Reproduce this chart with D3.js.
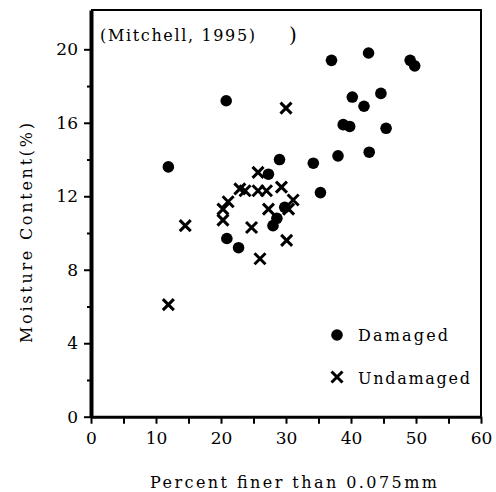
<!DOCTYPE html>
<html>
<head>
<meta charset="utf-8">
<script src="https://cdn.jsdelivr.net/npm/d3@7"></script>
<style>
  body { margin: 0; background: #fff; }
  svg { display: block; }
  text { font-family: "DejaVu Serif", "Liberation Serif", serif; fill: #000; }
</style>
</head>
<body>
<div id="chart"></div>
<script>
// Data (percent finer than 0.075mm, moisture content %)
var damagedX = [37.0, 42.7, 49.1, 49.8, 40.2, 44.6, 42.0, 38.8, 39.8, 45.4,
                29.0, 34.2, 38.0, 42.8, 35.3, 20.8, 11.9, 20.9, 22.7, 27.3,
                29.8, 28.6, 28.0];
var damagedY = [19.4, 19.8, 19.4, 19.1, 17.4, 17.6, 16.9, 15.9, 15.8, 15.7,
                14.0, 13.8, 14.2, 14.4, 12.2, 17.2, 13.6, 9.7, 9.2, 13.2,
                11.4, 10.8, 10.4];
var undamagedX = [30.0, 14.5, 11.9, 25.7, 22.9, 23.7, 21.1, 20.3, 20.3, 25.7,
                  27.0, 29.3, 31.1, 27.3, 30.4, 24.7, 30.1, 26.0];
var undamagedY = [16.8, 10.4, 6.1, 13.3, 12.4, 12.3, 11.7, 11.3, 10.7, 12.3,
                  12.3, 12.5, 11.8, 11.3, 11.3, 10.3, 9.6, 8.6];
var xTicks = [0, 10, 20, 30, 40, 50, 60];
var yTicks = [0, 4, 8, 12, 16, 20];

var width = 496, height = 492;
var serif = "DejaVu Serif";

var svg = d3.select("#chart").append("svg")
  .attr("width", width)
  .attr("height", height);

var x = d3.scaleLinear().domain([0, 60]).range([91, 481]);
var y = d3.scaleLinear().domain([0, 22.14]).range([416.7, 10]);

// frame (top and right)
svg.append("path")
  .attr("d", "M" + x(0) + "," + y(22.14) + "H" + x(60) + "V" + y(0))
  .attr("fill", "none")
  .attr("stroke", "#000")
  .attr("stroke-width", 2);

// x axis
var xAxis = d3.axisBottom(x)
  .tickValues(d3.range(0, 61, 5))
  .tickFormat(function(d) { return xTicks.indexOf(d) >= 0 ? d : ""; })
  .tickSizeInner(7)
  .tickSizeOuter(0)
  .tickPadding(8);

var gx = svg.append("g")
  .attr("transform", "translate(0," + y(0) + ")")
  .call(xAxis)
  .attr("font-family", serif);
gx.select(".domain").attr("stroke-width", 3);
gx.selectAll(".tick line").attr("stroke-width", 2);
gx.selectAll("text").attr("font-size", 17).attr("font-family", serif);

// y axis
var yAxis = d3.axisLeft(y)
  .tickValues(d3.range(0, 21, 2))
  .tickFormat(function(d) { return yTicks.indexOf(d) >= 0 ? d : ""; })
  .tickSizeInner(6)
  .tickSizeOuter(0)
  .tickPadding(7);

var gy = svg.append("g")
  .attr("transform", "translate(" + x(0) + ",0)")
  .call(yAxis)
  .attr("font-family", serif);
gy.select(".domain").attr("stroke-width", 4);
gy.selectAll(".tick line")
  .attr("stroke-width", 2)
  .attr("x2", function(d) { return yTicks.indexOf(d) >= 0 ? -7 : -4; });
gy.selectAll("text").attr("font-size", 17).attr("font-family", serif);

// axis titles
svg.append("text")
  .attr("x", 150)
  .attr("y", 488)
  .attr("font-family", serif)
  .attr("font-size", 16)
  .attr("textLength", 287)
  .attr("lengthAdjust", "spacing")
  .text("Percent finer than 0.075mm");

svg.append("text")
  .attr("transform", "translate(32,343) rotate(-90)")
  .attr("font-family", serif)
  .attr("font-size", 16)
  .attr("textLength", 220)
  .attr("lengthAdjust", "spacing")
  .text("Moisture Content(%)");

// source note
svg.append("text")
  .attr("x", 100)
  .attr("y", 41)
  .attr("font-family", serif)
  .attr("font-size", 16)
  .attr("textLength", 155)
  .attr("lengthAdjust", "spacing")
  .text("(Mitchell, 1995)");
svg.append("text")
  .attr("x", 289)
  .attr("y", 42)
  .attr("font-family", serif)
  .attr("font-size", 20)
  .text(")");

// markers
function crossPath(cx, cy, s) {
  return "M" + (cx - s) + "," + (cy - s) + "L" + (cx + s) + "," + (cy + s) +
         "M" + (cx - s) + "," + (cy + s) + "L" + (cx + s) + "," + (cy - s);
}

var damaged = damagedX.map(function(v, i) { return {x: v, y: damagedY[i]}; });
var undamaged = undamagedX.map(function(v, i) { return {x: v, y: undamagedY[i]}; });

svg.append("g").selectAll("circle")
  .data(damaged)
  .enter().append("circle")
  .attr("cx", function(d) { return x(d.x); })
  .attr("cy", function(d) { return y(d.y); })
  .attr("r", 5.8)
  .attr("fill", "#000");

svg.append("g").selectAll("path")
  .data(undamaged)
  .enter().append("path")
  .attr("d", function(d) { return crossPath(x(d.x), y(d.y), 5.5); })
  .attr("stroke", "#000")
  .attr("stroke-width", 3)
  .attr("fill", "none");

// legend
var legend = svg.append("g");
legend.append("circle")
  .attr("cx", 337).attr("cy", 335).attr("r", 5.8).attr("fill", "#000");
legend.append("text")
  .attr("x", 358).attr("y", 341)
  .attr("font-family", serif)
  .attr("font-size", 16)
  .attr("textLength", 90)
  .attr("lengthAdjust", "spacing")
  .text("Damaged");
legend.append("path")
  .attr("d", crossPath(337, 377, 5.5))
  .attr("stroke", "#000")
  .attr("stroke-width", 3)
  .attr("fill", "none");
legend.append("text")
  .attr("x", 358).attr("y", 384)
  .attr("font-family", serif)
  .attr("font-size", 16)
  .attr("textLength", 112)
  .attr("lengthAdjust", "spacing")
  .text("Undamaged");
</script>
</body>
</html>
